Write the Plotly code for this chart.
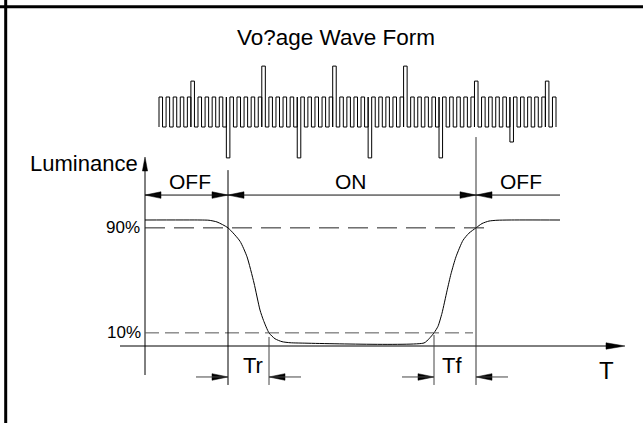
import plotly.graph_objects as go

W, H = 643, 423
FONT = "Liberation Sans, Arial, sans-serif"

# ---------------- data ----------------
title_text = "Vo?age Wave Form"
axis_label = "Luminance"
phase_labels = ["OFF", "ON", "OFF"]
ref_levels = [90, 10]                 # luminance %
ref_labels = ["90%", "10%"]
time_labels = ["Tr", "Tf"]
time_axis_label = "T"

# key instants on the time axis (time units)
t_on, t_tr, t_tf, t_off = 83, 124, 289, 331
t_axis_start, t_axis_end = -25, 480
t_phase_end = 415

# luminance response curve
curve_t = [0, 55, 64, 72, 83, 95, 102, 109, 115, 118.5, 124, 130, 137, 145, 152,
           279, 284, 289, 293, 297, 302, 306, 311, 318, 324, 331, 337, 344, 352, 364, 415]
curve_lum = [96, 96, 95.8, 94.5, 90, 79.8, 68, 48, 27.4, 19.5, 10, 5.5, 3.3, 2.5, 2.3,
             2.3, 5.5, 10, 15, 25, 42, 55, 68, 80.5, 86, 90, 93.3, 95.2, 95.8, 96, 96]

# driving voltage wave form: one code per half period
wave_codes = ("HLHLHLHLH" "u" "LHLHLHLHL" "D" "HLHLHLHLH" "U" "LHLHLHLHL" "D"
              "HLHLHLHLH" "U" "LHLHLHLHL" "D" "HLHLHLHLH" "U" "LHLHLHLHL" "D"
              "HLHLHLHLH" "u" "LHLHLHLHL" "d" "HLHLHLHLH" "u" "LH")
wave_level = {"L": 0.0, "H": 1.0, "u": 1.53, "U": 2.03, "D": -1.03, "d": -0.5}
wave_t0, wave_t1 = 14, 411

# ---------------- figure ----------------
fig = go.Figure()

# voltage wave form (secondary y axis); spikes start with a full edge
n = len(wave_codes)
w = (wave_t1 - wave_t0) / n
wx, wy = [wave_t0], [0.0]
prev = 0.0
for i, c in enumerate(wave_codes):
    x = wave_t0 + i * w
    v = wave_level[c]
    if v > 1 and prev == 1.0:       # spike up right after a high part: drop first
        wx.append(x); wy.append(0.0)
    if v < 0 and prev == 0.0:       # spike down right after a low part: rise first
        wx.append(x); wy.append(1.0)
    wx.append(x); wy.append(v)
    prev = v
wx += [wave_t1, wave_t1]
wy += [prev, 0.0]
fig.add_trace(go.Scatter(x=wx, y=wy, mode="lines", line=dict(color="black", width=1, shape="hv"),
                         yaxis="y2", hoverinfo="skip"))

# luminance curve
fig.add_trace(go.Scatter(x=curve_t, y=curve_lum, mode="lines",
                         line=dict(color="black", width=1, shape="spline", smoothing=0.6),
                         hoverinfo="skip"))

PX_T = 1.0            # time units per px
PX_L = 1 / 1.3125     # luminance % per px

shapes = []


def hline(x0, x1, y, color="black", width=1, dash=None):
    shapes.append(dict(type="line", xref="x", yref="y", x0=x0, x1=x1, y0=y, y1=y,
                       line=dict(color=color, width=width, dash=dash)))


def vline(x, y0, y1, color="black", width=1):
    shapes.append(dict(type="line", xref="x", yref="y", x0=x, x1=x, y0=y0, y1=y1,
                       line=dict(color=color, width=width)))


row_phase = 115      # luminance level of the OFF/ON arrow row
row_time = -23.6     # level of the Tr/Tf arrow row
low_end = -29.7      # bottom of the vertical marker lines

vline(0, low_end + 7.6, 133.5)                       # luminance axis
hline(t_axis_start, t_axis_end - 18, 0)               # time axis
hline(0, 345, ref_levels[0], color="#222", dash="20px,9px")
hline(0, 328, ref_levels[1], color="#555", dash="14px,6px")
vline(t_on, low_end, 134)
vline(t_tr, 6.9, low_end, color="#444")
vline(t_tf, 8.4, low_end, color="#444")
vline(t_off, 159.2, low_end, color="#333")
hline(0, t_phase_end, row_phase, color="#111")
hline(t_on - 32, t_on, row_time, color="#444")
hline(t_tr, t_tr + 32, row_time, color="#444")
hline(t_tf - 32, t_tf, row_time, color="#444")
hline(t_off, t_off + 32, row_time, color="#444")

tx, ty = [], []


def tri_h(tip, y, direction, length=16, half=3.3):
    base = tip - direction * length * PX_T
    tx.extend([tip, base, base, tip, None])
    ty.extend([y, y + half * PX_L, y - half * PX_L, y, None])


def tri_v(x, tip, direction, length=14, half=2.6):
    base = tip - direction * length * PX_L
    tx.extend([x, x - half * PX_T, x + half * PX_T, x, None])
    ty.extend([tip, base, base, tip, None])


tri_h(0, row_phase, -1)
tri_h(t_on, row_phase, +1)
tri_h(t_on, row_phase, -1)
tri_h(t_off, row_phase, +1)
tri_h(t_off, row_phase, -1)
tri_h(t_on, row_time, +1)
tri_h(t_tr, row_time, -1)
tri_h(t_tf, row_time, +1)
tri_h(t_off, row_time, -1)
tri_h(t_axis_end, 0, +1, length=19, half=3.2)
tri_v(0, 144, +1)

fig.add_trace(go.Scatter(x=tx, y=ty, mode="lines", fill="toself", fillcolor="black",
                         line=dict(color="black", width=0.5), hoverinfo="skip"))

shapes.append(dict(type="line", xref="paper", yref="paper", x0=0, x1=1,
                   y0=1 - 6.7 / H, y1=1 - 6.7 / H, line=dict(color="black", width=3)))
shapes.append(dict(type="line", xref="paper", yref="paper", x0=5.7 / W, x1=5.7 / W,
                   y0=0, y1=1, line=dict(color="black", width=3)))

ann = []


def label(x, y, text, size, anchor="center"):
    ann.append(dict(x=x, y=y, xref="x", yref="y", text=text, showarrow=False,
                    xanchor=anchor, yanchor="middle",
                    font=dict(family=FONT, size=size, color="black")))


label(191, 235.4, title_text, 22.5)
label(-5, 139.4, axis_label, 22, anchor="right")
label(44.5, 125, phase_labels[0], 21)
label(205.5, 125, phase_labels[1], 21)
label(376, 125, phase_labels[2], 21)
label(-3, ref_levels[0], ref_labels[0], 17, anchor="right")
label(-2, ref_levels[1], ref_labels[1], 17, anchor="right")
label(107.5, -14.5, time_labels[0], 22)
label(307, -14.5, time_labels[1], 22)
label(461.5, -18.3, time_axis_label, 24)

fig.update_layout(
    width=W, height=H,
    margin=dict(l=0, r=0, t=0, b=0),
    paper_bgcolor="white", plot_bgcolor="white",
    showlegend=False,
    xaxis=dict(range=[-145, W - 145], visible=False, fixedrange=True),
    yaxis=dict(range=[(346 - H) / 1.3125, 346 / 1.3125], visible=False, fixedrange=True),
    yaxis2=dict(range=[(127 - H) / 30, 127 / 30], overlaying="y", visible=False, fixedrange=True),
    shapes=shapes,
    annotations=ann,
)

fig.write_html("out.html", config={"staticPlot": True},
               post_script="document.body.style.margin='0';document.body.style.overflow='hidden';")
